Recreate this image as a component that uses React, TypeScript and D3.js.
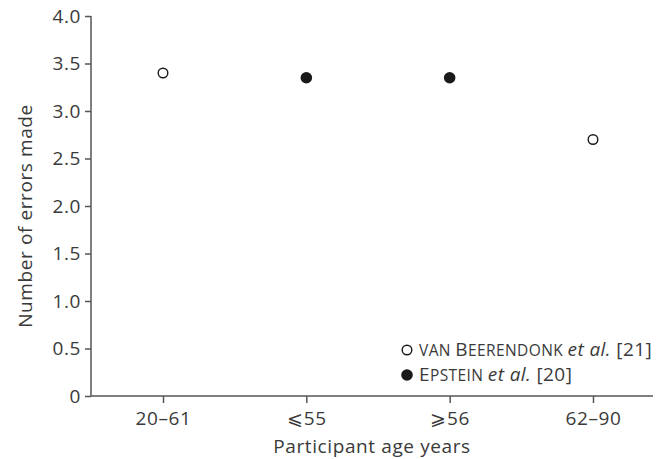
import { useEffect, useRef } from 'react';
import * as d3 from 'd3';

const AGE_GROUPS = ['20–61', '⩽55', '⩾56', '62–90'];
const ERRORS = [3.4, 3.35, 3.35, 2.7];
const STUDY = ['van', 'epstein', 'epstein', 'van'];
const Y_TICKS = [0, 0.5, 1, 1.5, 2, 2.5, 3, 3.5, 4];

const W = 668, H = 459;
const FONT = '"Open Sans", sans-serif';
const FS = 19, SC = 15.5, LS = 0.6;
const TXT = '#3a3a3a', AX = '#555';

// [text, style] pieces for the legend labels: sc = small caps, i = italic
const LEG_VAN: [string, string][] = [['VAN ', 'sc'], ['B', ''], ['EERENDONK ', 'sc'], ['et al.', 'i'], [' [21]', '']];
const LEG_EPS: [string, string][] = [['E', ''], ['PSTEIN ', 'sc'], ['et al.', 'i'], [' [20]', '']];

export default function App() {
  const ref = useRef<SVGSVGElement>(null);
  useEffect(() => {
    document.body.style.margin = '0';
    const svg = d3.select(ref.current); svg.selectAll('*').remove();
    const x = d3.scalePoint<string>().domain(AGE_GROUPS).range([163, 593]);
    const y = d3.scaleLinear().domain([0, 4]).range([396, 16]);
    const x0 = 91, x1 = 653;

    // axes
    const ya = svg.append('g').attr('transform', `translate(${x0},0)`)
      .call(d3.axisLeft(y).tickValues(Y_TICKS).tickSize(6).tickPadding(4)
        .tickFormat(d => (+d === 0 ? '0' : d3.format('.1f')(+d))));
    ya.select('.domain').remove();
    svg.append('line').attr('x1', x0).attr('x2', x0).attr('y1', y(4)).attr('y2', y(0))
      .attr('stroke', AX).attr('stroke-width', 1.5);
    const xa = svg.append('g').attr('transform', `translate(0,${y(0)})`)
      .call(d3.axisBottom(x).tickSize(7).tickPadding(9));
    xa.select('.domain').remove();
    svg.append('line').attr('x1', x0).attr('x2', x1).attr('y1', y(0)).attr('y2', y(0))
      .attr('stroke', AX).attr('stroke-width', 1.5);
    svg.selectAll('.tick line').attr('stroke', AX).attr('stroke-width', 1.5);
    svg.selectAll('.tick text').attr('fill', TXT).attr('font-size', FS).attr('font-family', FONT)
      .attr('letter-spacing', LS);

    // titles
    svg.append('text').attr('x', 372).attr('y', 453).attr('text-anchor', 'middle').attr('letter-spacing', LS)
      .attr('fill', TXT).attr('font-size', FS).attr('font-family', FONT).text('Participant age years');
    svg.append('text').attr('transform', `translate(32,216) rotate(-90)`).attr('text-anchor', 'middle')
      .attr('letter-spacing', LS)
      .attr('fill', TXT).attr('font-size', FS).attr('font-family', FONT).text('Number of errors made');

    // points
    svg.append('g').selectAll('circle').data(AGE_GROUPS).join('circle')
      .attr('cx', d => x(d)!).attr('cy', (_, i) => y(ERRORS[i]))
      .attr('r', (_, i) => (STUDY[i] === 'van' ? 4.8 : 5.8))
      .attr('fill', (_, i) => (STUDY[i] === 'van' ? '#fff' : '#1a1a1a'))
      .attr('stroke', '#1a1a1a').attr('stroke-width', (_, i) => (STUDY[i] === 'van' ? 1.4 : 0));

    // legend
    const lg = svg.append('g').attr('font-family', FONT).attr('font-size', FS).attr('fill', TXT)
      .attr('letter-spacing', 0.4);
    const label = (parts: [string, string][], ty: number) => {
      const t = lg.append('text').attr('x', 419).attr('y', ty).attr('xml:space', 'preserve');
      parts.forEach(([s, k]) => {
        const sp = t.append('tspan').text(s);
        if (k === 'sc') sp.attr('font-size', SC);
        if (k === 'i') sp.attr('font-style', 'italic');
      });
    };
    lg.append('circle').attr('cx', 407).attr('cy', 350).attr('r', 4.8).attr('fill', '#fff')
      .attr('stroke', '#1a1a1a').attr('stroke-width', 1.4);
    label(LEG_VAN, 356);
    lg.append('circle').attr('cx', 407).attr('cy', 375).attr('r', 5.8).attr('fill', '#1a1a1a');
    label(LEG_EPS, 381);
  }, []);
  return <svg ref={ref} width={W} height={H} style={{ display: 'block', background: '#fff' }} />;
}
